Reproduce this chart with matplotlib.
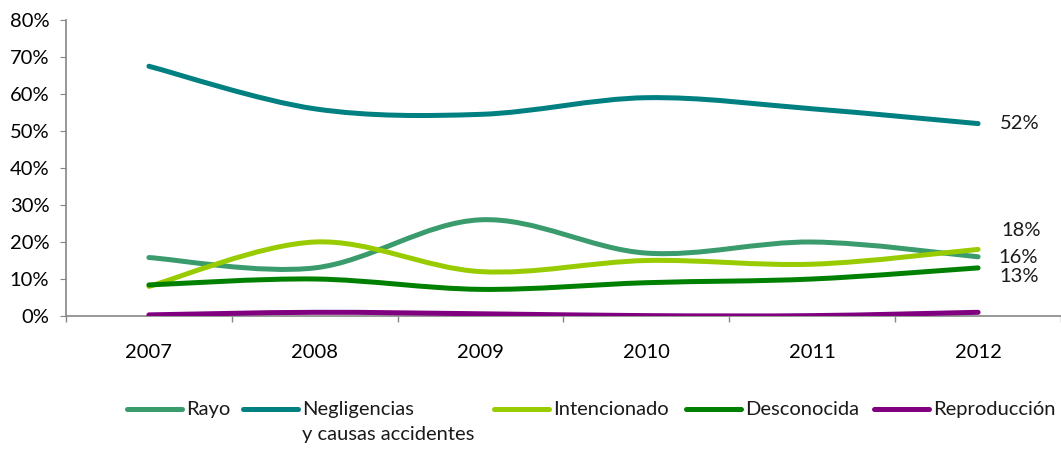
import matplotlib.pyplot as plt
from matplotlib.path import Path
from matplotlib.patches import PathPatch
from matplotlib.lines import Line2D
from matplotlib.ticker import FuncFormatter, MultipleLocator, FixedLocator

plt.rcParams["font.family"] = ["Lato", "DejaVu Sans"]

years = ["2007", "2008", "2009", "2010", "2011", "2012"]
rayo = [15.8, 13.0, 26.0, 17.0, 20.0, 16.0]
negligencias = [67.5, 56.0, 54.5, 59.0, 56.0, 52.0]
intencionado = [8.0, 20.0, 12.0, 15.0, 14.0, 18.0]
desconocida = [8.4, 10.0, 7.2, 9.0, 10.0, 13.0]
reproduccion = [0.3, 1.0, 0.6, 0.1, 0.1, 1.0]

series = [
    ("Rayo", rayo, "#3a9b6c"),
    ("Negligencias\ny causas accidentes", negligencias, "#008080"),
    ("Intencionado", intencionado, "#99cc00"),
    ("Desconocida", desconocida, "#008000"),
    ("Reproducción", reproduccion, "#800080"),
]
end_labels = ["52%", "18%", "16%", "13%"]


def smooth_path(xs, ys):
    # Bezier segments like Excel "smoothed line"
    pts = list(zip(xs, ys))
    verts = [pts[0]]
    codes = [Path.MOVETO]
    n = len(pts)
    for i in range(n - 1):
        p0 = pts[max(i - 1, 0)]
        p1 = pts[i]
        p2 = pts[i + 1]
        p3 = pts[min(i + 2, n - 1)]
        c1 = (p1[0] + (p2[0] - p0[0]) / 6, p1[1] + (p2[1] - p0[1]) / 6)
        c2 = (p2[0] - (p3[0] - p1[0]) / 6, p2[1] - (p3[1] - p1[1]) / 6)
        verts += [c1, c2, p2]
        codes += [Path.CURVE4] * 3
    return Path(verts, codes)


fig = plt.figure(figsize=(10.61, 4.5), dpi=100)
ax = fig.add_axes([66 / 1061, 134 / 450, 995 / 1061, 296 / 450])

x = list(range(len(years)))
for name, vals, color in series:
    patch = PathPatch(smooth_path(x, vals), fill=False, edgecolor=color,
                      linewidth=3.6, capstyle="round", joinstyle="round",
                      transform=ax.transData, zorder=3)
    ax.add_patch(patch)

ax.set_xlim(-0.5, 5.5)
ax.set_ylim(0, 80)
ax.yaxis.set_major_locator(MultipleLocator(10))
ax.yaxis.set_major_formatter(FuncFormatter(lambda v, p: f"{v:.0f}%"))
ax.set_xticks(x)
ax.set_xticklabels(years)
ax.xaxis.set_minor_locator(FixedLocator([i - 0.5 for i in range(7)]))
ax.tick_params(axis="x", which="major", length=0, pad=20, labelsize=14.5)
ax.tick_params(axis="x", which="minor", length=4.5, color="#868686", width=1)
ax.tick_params(axis="y", length=4, color="#868686", pad=8, labelsize=14.5)
for s in ["top", "right"]:
    ax.spines[s].set_visible(False)
for s in ["left", "bottom"]:
    ax.spines[s].set_color("#868686")
    ax.spines[s].set_linewidth(1.2)

# end labels
label_pos = {"52%": (5.13, 52.0), "18%": (5.14, 23.2), "16%": (5.12, 15.9), "13%": (5.13, 10.8)}
for txt in end_labels:
    lx, ly = label_pos[txt]
    ax.text(lx, ly, txt, fontsize=14.5, va="center", ha="left", color="#1a1a1a")

# legend drawn manually to match layout
leg_x = [127, 243, 494, 686, 874]
leg_y = 1 - 409 / 450
for (name, vals, color), lx in zip(series, leg_x):
    fig.add_artist(Line2D([lx / 1061, (lx + 55) / 1061], [leg_y, leg_y],
                          color=color, linewidth=3.6, solid_capstyle="round",
                          transform=fig.transFigure))
    fig.text((lx + 59) / 1061, leg_y + 8 / 450, name, fontsize=14.5,
             va="top", ha="left", color="#1a1a1a", linespacing=1.55,
             transform=fig.transFigure)

fig.savefig("out.png", dpi=100)
